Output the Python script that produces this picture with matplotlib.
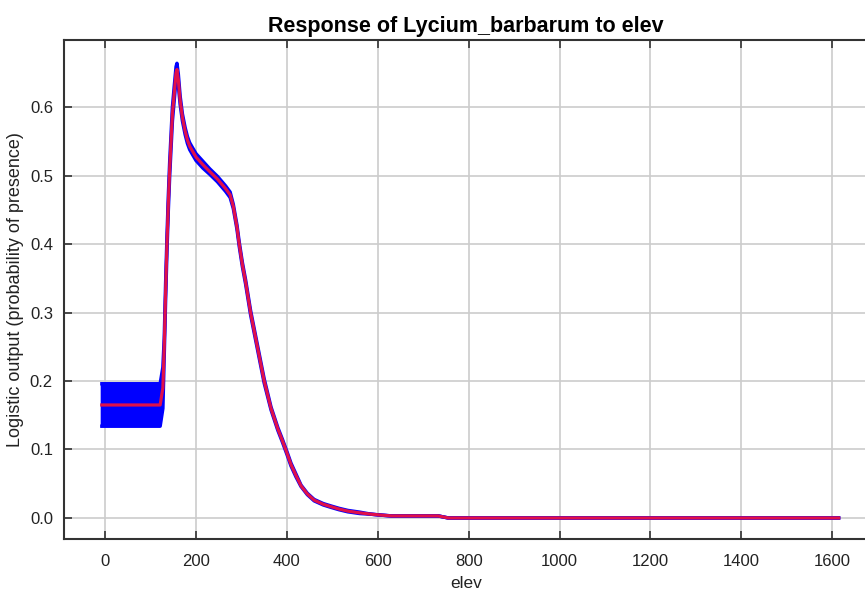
import matplotlib.pyplot as plt
import numpy as np

plt.rcParams['font.family'] = ['Liberation Sans', 'DejaVu Sans']

# elevation values and Maxent response (mean and standard deviation)
elev = [-11, 121, 127, 130, 133, 136, 139, 142, 145, 148, 152, 156, 158, 161,
        165, 170, 176, 181, 186, 192, 200, 215, 230, 247, 265, 275, 282, 290,
        295, 302, 309, 320, 335, 350, 365, 380, 390, 400, 409, 420, 431, 445,
        460, 480, 497, 515, 534, 560, 585, 610, 630, 680, 733, 755, 1618]
mean = [0.165, 0.165, 0.19, 0.25, 0.33, 0.40, 0.46, 0.51, 0.55, 0.59, 0.62,
        0.65, 0.655, 0.64, 0.61, 0.585, 0.565, 0.552, 0.543, 0.536, 0.527,
        0.516, 0.506, 0.495, 0.481, 0.472, 0.455, 0.425, 0.40, 0.37, 0.345,
        0.30, 0.25, 0.20, 0.16, 0.13, 0.113, 0.095, 0.078, 0.062, 0.047,
        0.035, 0.026, 0.02, 0.0165, 0.013, 0.010, 0.0075, 0.0055, 0.004,
        0.003, 0.003, 0.003, 0.0, 0.0]
sd = [0.031, 0.031, 0.03, 0.012, 0.012, 0.01, 0.01, 0.01, 0.01, 0.01, 0.01,
      0.009, 0.009, 0.008, 0.006, 0.005, 0.005, 0.005, 0.005, 0.005, 0.005,
      0.005, 0.004, 0.004, 0.004, 0.004, 0.003, 0.003, 0.003, 0.003, 0.003,
      0.003, 0.003, 0.003, 0.002, 0.002, 0.002, 0.002, 0.002, 0.002, 0.001,
      0.001, 0.001, 0.001, 0.001, 0.001, 0.001, 0.001, 0.0, 0.0, 0.0, 0.0,
      0.0, 0.0, 0.0]

elev = np.array(elev)
mean = np.array(mean)
sd = np.array(sd)

fig = plt.figure(figsize=(8.65, 5.93), dpi=100)
ax = fig.add_axes([0.074, 0.0911, 0.93, 0.8414])

# blue band: mean +/- sd
ax.fill_between(elev, mean - sd, mean + sd, color='#0000ff', lw=0)
ax.plot(elev, mean + sd, color='#0000ff', lw=2.5, solid_capstyle='butt')
ax.plot(elev, mean - sd, color='#0000ff', lw=2.5, solid_capstyle='butt')
# red mean line
ax.plot(elev, mean, color='#e0104a', lw=2.3, solid_capstyle='butt')

ax.set_xlim(-90.6, 1680)
ax.set_ylim(-0.0307, 0.698)
ax.set_xticks(np.arange(0, 1700, 200))
ax.set_yticks(np.arange(0, 0.65, 0.1))
ax.set_yticklabels(['%.1f' % v for v in np.arange(0, 0.65, 0.1)])

ax.grid(True, color='#cccccc', lw=1.2)
ax.set_axisbelow(True)
ax.tick_params(direction='in', length=6, width=1.2, color='#333333',
               labelsize=12, labelcolor='#222222', top=True, right=False)
ax.tick_params(axis='x', pad=11)
ax.tick_params(axis='y', pad=8)
for side in ['left', 'bottom', 'top']:
    ax.spines[side].set_color('#333333')
    ax.spines[side].set_linewidth(1.5)
ax.spines['right'].set_visible(False)

ax.set_title('Response of Lycium_barbarum to elev', fontsize=15.5,
             fontweight='bold', pad=6)
ax.set_xlabel('elev', fontsize=12.5, color='#222222', labelpad=5)
ax.set_ylabel('Logistic output (probability of presence)', fontsize=13,
              color='#222222', labelpad=4)

plt.savefig('out.png', dpi=100)
